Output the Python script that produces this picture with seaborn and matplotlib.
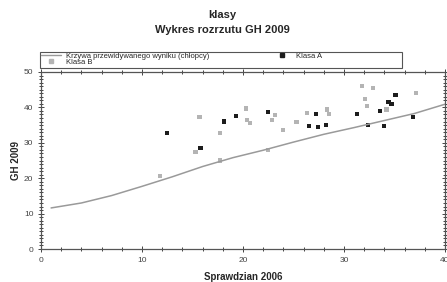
import pandas as pd
import numpy as np
import matplotlib.pyplot as plt
import seaborn as sns
from matplotlib.ticker import MultipleLocator
from matplotlib.lines import Line2D
from matplotlib.patches import Rectangle

# values
klasa_a_x = [12.5, 15.8, 18.1, 19.3, 22.5, 26.5, 27.2, 27.4, 28.2, 31.3, 32.4, 33.6, 34.0, 34.4, 34.7, 35.1, 36.8]
klasa_a_y = [32.8, 28.5, 36.0, 37.5, 38.6, 34.8, 38.1, 34.4, 35.1, 38.2, 35.1, 39.1, 34.7, 41.6, 40.9, 43.5, 37.2]

klasa_b_x = [11.8, 15.3, 15.7, 17.7, 17.7, 20.3, 20.4, 20.7, 22.5, 22.9, 23.2, 24.0, 25.3, 26.3, 28.3, 28.5,
             31.8, 32.1, 32.3, 32.9, 34.2, 37.1]
klasa_b_y = [20.6, 27.4, 37.2, 25.0, 32.8, 39.7, 36.5, 35.6, 28.0, 36.4, 37.9, 33.5, 35.8, 38.4, 39.4, 38.2,
             46.1, 42.4, 40.5, 45.4, 39.4, 44.0]

krzywa_x = [1, 4, 7, 10, 13, 16, 19, 22, 25, 28, 31, 34, 37, 40]
krzywa_y = [11.6, 13.0, 15.1, 17.7, 20.4, 23.3, 25.8, 27.9, 30.2, 32.4, 34.3, 36.3, 38.3, 40.9]

df = pd.DataFrame({
    'x': klasa_a_x + klasa_b_x,
    'y': klasa_a_y + klasa_b_y,
    'klasa': ['Klasa A'] * len(klasa_a_x) + ['Klasa B'] * len(klasa_b_x),
})
curve = pd.DataFrame({'x': krzywa_x, 'y': krzywa_y})

sns.set_style('ticks')
plt.rcParams['font.family'] = ['Liberation Sans', 'DejaVu Sans']

fig = plt.figure(figsize=(4.47, 2.82), dpi=100)
ax = fig.add_axes([41/447, 1-249/282, 404/447, 177/282])

colors = {'Klasa A': '#1c1c1c', 'Klasa B': '#b4b4b4'}
sns.lineplot(data=curve, x='x', y='y', ax=ax, color='#9a9a9a', linewidth=1.1, legend=False)
sns.scatterplot(data=df, x='x', y='y', hue='klasa', palette=colors, marker='s', s=9,
                linewidth=0, ax=ax, legend=False)

ax.set_xlim(0, 40)
ax.set_ylim(0, 50)
ax.xaxis.set_major_locator(MultipleLocator(10))
ax.xaxis.set_minor_locator(MultipleLocator(2))
ax.yaxis.set_major_locator(MultipleLocator(10))
ax.yaxis.set_minor_locator(MultipleLocator(1))
ax.tick_params(which='both', direction='inout', top=True, right=True, colors='#444444',
               labelsize=6, width=0.7)
ax.tick_params(which='major', length=5, pad=3)
ax.tick_params(which='minor', length=3)
for s in ax.spines.values():
    s.set_color('#555555')
    s.set_linewidth(0.9)

ax.set_xlabel('Sprawdzian 2006', fontsize=7, fontweight='bold', labelpad=6)
ax.set_ylabel('GH 2009', fontsize=7, fontweight='bold', labelpad=2)

fig.text(0.497, 1-15/282, 'klasy', ha='center', va='center', fontsize=8, fontweight='bold')
fig.text(0.497, 1-30/282, 'Wykres rozrzutu GH 2009', ha='center', va='center', fontsize=8, fontweight='bold')

# legend frame drawn separately so it can span the width of the reference box
fig.patches.append(Rectangle((40/447, 1-68/282), 362/447, 16/282, transform=fig.transFigure,
                             fill=False, edgecolor='#555555', linewidth=0.8))

handles = [
    Line2D([], [], color='#9a9a9a', linewidth=1),
    Line2D([], [], color=colors['Klasa B'], marker='s', markersize=2.5, linestyle='none'),
    Line2D([], [], color=colors['Klasa A'], marker='s', markersize=2.5, linestyle='none'),
]
labels = ['Krzywa przewidywanego wyniku (chłopcy)', 'Klasa B', 'Klasa A']
fig.legend(handles, labels, ncol=2, loc='upper left', bbox_to_anchor=(41/447, 1-52/282),
           fontsize=5.5, frameon=False, borderpad=0.05, labelspacing=-0.12,
           handlelength=2.6, handletextpad=0.6, columnspacing=8.2, borderaxespad=0)

plt.savefig('out.png', dpi=100)
